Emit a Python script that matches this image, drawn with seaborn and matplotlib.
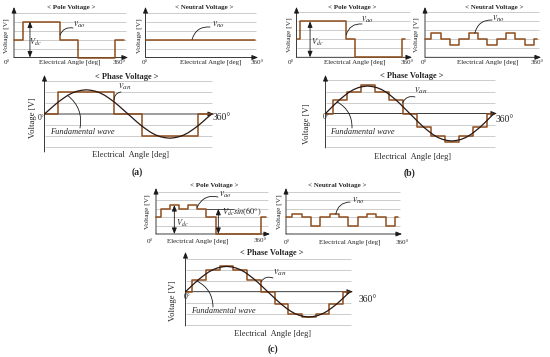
import numpy as np
import matplotlib
matplotlib.use('Agg')
import matplotlib.pyplot as plt
import seaborn as sns

sns.set_theme(style='white')
plt.rcParams['font.family'] = ['Liberation Serif', 'DejaVu Serif']
plt.rcParams['mathtext.fontset'] = 'stix'

# ---- data (grid units / degrees) ----
pole_a_edges = [0, 30, 150, 210, 330, 360]
pole_a_lvls = [2, 4, 2, 0, 2]
neu_a_edges = [0, 360]
neu_a_lvls = [2]
ph_a_edges = [0, 30, 150, 210, 330, 360]
ph_a_lvls = [0, 2, 0, -2, 0]

pole_b_edges = [0, 10, 165, 195, 350, 360]
pole_b_lvls = [2, 4, 2, 0, 2]
neu_edges = [0, 20, 50, 80, 110, 140, 170, 200, 230, 260, 290, 320, 350, 360]
neu_b_lvls = [2, 2.67, 2, 1.33, 2, 2.67, 2, 1.33, 2, 2.67, 2, 1.33, 2]
ph_edges = [0, 15, 45, 75, 105, 135, 165, 195, 225, 255, 285, 315, 345, 360]
ph_b_lvls = [0, 1.2, 2, 2.6, 2, 1.2, 0, -1.2, -2, -2.6, -2, -1.2, 0]

pole_c_edges = [0, 15, 45, 75, 105, 135, 165, 195, 345, 360]
pole_c_lvls = [2, 3, 3.45, 3, 3.45, 3, 2, 0, 2]
neu_c_lvls = [2, 2.35, 2, 1, 2, 2.35, 2, 1, 2, 2.35, 2, 1, 2]
ph_c_lvls = [0, 1.1, 2, 2.3, 2, 1.1, 0, -1.1, -2, -2.3, -2, -1.1, 0]

# fundamental wave, read every 10 deg (unit amplitude)
fund_deg = list(range(0, 361, 10))
fund_unit = [0, .17, .34, .5, .64, .77, .87, .94, .98, 1, .98, .94, .87, .77, .64, .5, .34, .17,
             0, -.17, -.34, -.5, -.64, -.77, -.87, -.94, -.98, -1, -.98, -.94, -.87, -.77, -.64,
             -.5, -.34, -.17, 0]
fund_amp_a, fund_amp_b, fund_amp_c = 2.2, 2.5, 2.3

BROWN = '#8e4e1c'
FUND = '#2a1712'
GRID = '#c4c4c4'
W, H = 550, 357

fig = plt.figure(figsize=(5.5, 3.57), dpi=100)


def arrow(ax, start, end, style='-|>,head_length=0.3,head_width=0.12'):
    ax.annotate('', xy=end, xytext=start, annotation_clip=False,
                arrowprops=dict(arrowstyle=style, color='k', lw=0.6, shrinkA=0, shrinkB=0))


def panel(x0, x1, yb, u, top, right, bottom=None, grid=()):
    # pixel layout -> axes with degrees on x and grid units on y
    sx = (x1 - x0) / 360.0
    bot = yb if bottom is None else bottom
    L, R, T, B = x0 - 8, right + 4, top - 4, bot + 4
    ax = fig.add_axes([L / W, 1 - B / H, (R - L) / W, (B - T) / H])
    ax.set_xlim((L - x0) / sx, (R - x0) / sx)
    ax.set_ylim((yb - B) / u, (yb - T) / u)
    ax.axis('off')
    xend = (right - x0) / sx
    ax.hlines(grid, 0, xend - 2 / sx, color=GRID, lw=0.6, zorder=0)
    arrow(ax, (0, (yb - bot) / u), (0, (yb - top) / u))
    arrow(ax, (0, 0), (xend, 0))
    return ax


def steps(ax, edges, lvls):
    sns.lineplot(x=edges, y=list(lvls) + [lvls[-1]], drawstyle='steps-post', ax=ax,
                 color=BROWN, lw=1.1, estimator=None, sort=False, zorder=3)


def fund(ax, amp):
    sns.lineplot(x=fund_deg, y=np.array(fund_unit) * amp, ax=ax, color=FUND, lw=0.9,
                 estimator=None, sort=False, zorder=4)


def T(x, y, s, size=4.8, **kw):
    fig.text(x / W, 1 - y / H, s, ha='center', va='center', fontsize=size, **kw)


def callout(ax, xy, px, rad=0.3):
    ax.annotate('', xy=xy, xytext=(px[0] / W, 1 - px[1] / H), textcoords='figure fraction',
                annotation_clip=False,
                arrowprops=dict(arrowstyle='-', connectionstyle=f'arc3,rad={rad}', color='k',
                                lw=0.6, shrinkA=0, shrinkB=0))


small_grid = [1, 2, 3, 4, 5]
ph_grid = [-3, -2, -1, 1, 2, 3]

# ---------- (a) ----------
ax = panel(14, 124.5, 57.5, 9, 7, 128, grid=small_grid)
steps(ax, pole_a_edges, pole_a_lvls)
arrow(ax, (52, 0), (52, 4), '<|-|>,head_length=0.3,head_width=0.12')
callout(ax, (150, 2.5), (73, 28), 0.4)
ax = panel(145.5, 255, 57.5, 9, 7, 258, grid=small_grid)
steps(ax, neu_a_edges, neu_a_lvls)
callout(ax, (153, 2), (210, 27), 0.4)
ax = panel(44.5, 211.5, 114, 11, 75, 214, 152, grid=ph_grid)
steps(ax, ph_a_edges, ph_a_lvls)
fund(ax, fund_amp_a)
callout(ax, (150, 1.3), (121, 92), 0.4)
callout(ax, (50, 1.68), (80, 128), 0.3)

# ---------- (b) ----------
ax = panel(296.5, 405, 57.3, 9, 7, 412, grid=small_grid)
steps(ax, pole_b_edges, pole_b_lvls)
arrow(ax, (45, 0), (45, 4), '<|-|>,head_length=0.3,head_width=0.12')
callout(ax, (165, 2.5), (362, 24), 0.4)
ax = panel(425, 537, 57.3, 9, 7, 541, grid=small_grid)
steps(ax, neu_edges, neu_b_lvls)
callout(ax, (160, 2.67), (492, 20), 0.4)
ax = panel(325.5, 494, 113.5, 11, 75, 497, 148, grid=ph_grid)
steps(ax, ph_edges, ph_b_lvls)
fund(ax, fund_amp_b)
callout(ax, (165, 1.0), (415, 97), 0.4)
callout(ax, (25, 1.05), (352, 128), 0.3)

# ---------- (c) ----------
ax = panel(156, 266, 234, 8.4, 188, 270, grid=small_grid)
steps(ax, pole_c_edges, pole_c_lvls)
arrow(ax, (60, 0), (60, 3.45), '<|-|>,head_length=0.3,head_width=0.12')
arrow(ax, (204, 0), (204, 3), '<|-|>,head_length=0.3,head_width=0.12')
ax.hlines(3, 165, 255, color='k', lw=0.5)
callout(ax, (135, 3.2), (218, 197), 0.4)
ax = panel(286, 398, 234, 8.4, 188, 402, grid=small_grid)
steps(ax, neu_edges, neu_c_lvls)
callout(ax, (160, 2.35), (350, 202), 0.4)
ax = panel(185.5, 350, 291.7, 11, 252, 353, 326, grid=ph_grid)
steps(ax, ph_edges, ph_c_lvls)
fund(ax, fund_amp_c)
callout(ax, (165, 0.9), (273, 278), 0.4)
callout(ax, (25, 0.97), (213, 307), 0.3)

# ---------- texts ----------
for x, y in [(71, 8), (352, 7), (214, 186)]:
    T(x, y, '< Pole Voltage >', 5, fontweight='bold')
for x, y in [(204, 8), (494, 7), (337, 186)]:
    T(x, y, '< Neutral Voltage >', 5, fontweight='bold')
for x, y in [(6, 36), (139, 36), (289, 35), (416, 35), (147, 212), (279, 212)]:
    T(x, y, 'Voltage [V]', 5.3, rotation=90)
for x, y in [(7, 62), (145, 62), (291, 62), (424, 62), (150, 241.5), (287, 242)]:
    T(x, y, '0°', 5)
for x, y in [(70, 62), (211, 62), (355, 62), (488, 62), (198, 241.5), (350, 242)]:
    T(x, y, 'Electrical Angle [deg]', 5)
for x, y in [(119, 62), (257, 62), (407, 62), (537, 62), (260, 241), (402, 242)]:
    T(x, y, '360°', 5)

for x, y in [(127, 77), (412, 76), (272, 253)]:
    T(x, y, '< Phase Voltage >', 6, fontweight='bold')
for x, y in [(33, 118), (307, 124), (173, 301)]:
    T(x, y, 'Voltage [V]', 6.2, rotation=90)
for x, y in [(41, 118), (326.5, 117), (187, 297)]:
    T(x, y, '0°', 5.5)
for x, y in [(222, 118), (505, 120), (368, 299)]:
    T(x, y, '360°', 7)
for x, y in [(82, 132), (362, 132), (223, 311)]:
    T(x, y, 'Fundamental wave', 6, fontstyle='italic')
for x, y in [(130, 155), (412, 157), (273, 334)]:
    T(x, y, 'Electrical  Angle [deg]', 6)
T(137, 172, '(a)', 7, fontweight='bold')
T(410, 173, '(b)', 7, fontweight='bold')
T(273, 349, '(c)', 7, fontweight='bold')

for x, y in [(79, 25), (367, 20), (225, 195)]:
    T(x, y, r'$v_{ao}$', 7)
for x, y in [(218, 25), (498, 19), (358, 201)]:
    T(x, y, r'$v_{no}$', 7)
for x, y in [(125, 87), (421, 91), (280, 273)]:
    T(x, y, r'$v_{an}$', 7.5)
for x, y in [(35, 42), (317, 42), (182, 223)]:
    T(x, y, r'$V_{dc}$', 6)
T(242, 212, r'$V_{dc}sin(60°)$', 6)

fig.savefig('out.png', dpi=100)
